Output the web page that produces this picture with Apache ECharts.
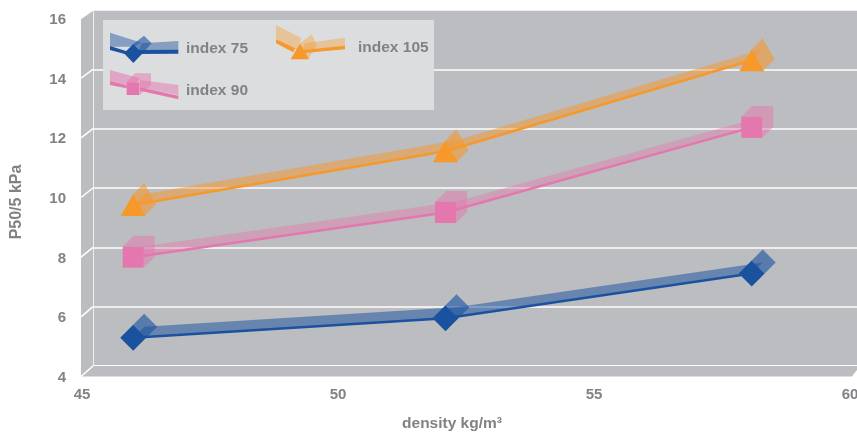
<!DOCTYPE html>
<html><head><meta charset="utf-8">
<style>html,body{margin:0;padding:0;background:#fff}#c{width:857px;height:432px}</style>
<script src="https://cdn.jsdelivr.net/npm/echarts@6/dist/echarts.min.js"></script></head>
<body><div id="c"></div>
<script>
const density = [46, 52.1, 58.08];
const index75 = [5.35, 6.0, 7.5];
const index90 = [8.05, 9.55, 12.4];
const index105 = [9.8, 11.6, 14.65];
const yTicks = [4, 6, 8, 10, 12, 14, 16];
const xRange = [45, 60];
const labelGray = '#808285', wall = '#bcbdc0', font = '"Liberation Sans", Arial, sans-serif';
const blue = '#1a52a0', pink = '#e477ae', orange = '#f7982b';
const D = 11;
const pairs = v => density.map((x, i) => [x, v[i]]);

function faces(shape, c) {
  const [x, y] = c;
  const off = p => [p[0] + D, p[1] - D];
  const quad = (a, b) => [a, b, off(b), off(a)];
  if (shape === 'diamond') return [quad([x, y - 13], [x + 13, y])];
  if (shape === 'triangle') return [quad([x, y - 11], [x + 12, y + 10])];
  return [quad([x - 10.5, y - 10.5], [x + 10.5, y - 10.5]), quad([x + 10.5, y - 10.5], [x + 10.5, y + 10.5])];
}
function depthSeries(name, values, color, faceAlpha, ribbonAlpha, shape) {
  return {
    type: 'custom', name: name + ' depth', xAxisIndex: 0, yAxisIndex: 0, z: 3, clip: false, silent: true,
    data: pairs(values),
    renderItem(params, api) {
      const p = api.coord([api.value(0), api.value(1)]);
      const children = [];
      faces(shape, p).forEach(f => children.push({ type: 'polygon', shape: { points: f }, style: { fill: color, opacity: faceAlpha } }));
      const i = params.dataIndex;
      if (i < density.length - 1) {
        const q = api.coord([density[i + 1], values[i + 1]]);
        children.push({ type: 'polygon', shape: { points: [p, q, [q[0] + D, q[1] - D], [p[0] + D, p[1] - D]] }, style: { fill: color, opacity: ribbonAlpha } });
      }
      return { type: 'group', children };
    }
  };
}
function frontSeries(name, values, color, symbol, size) {
  return {
    type: 'line', name, xAxisIndex: 0, yAxisIndex: 0, z: 4, data: pairs(values), symbol, symbolSize: size,
    showAllSymbol: true, lineStyle: { color, width: 2.5 }, itemStyle: { color, opacity: 1 }
  };
}
const wallSeries = {
  type: 'custom', name: 'walls', xAxisIndex: 0, yAxisIndex: 0, z: 1, clip: false, silent: true,
  data: yTicks.map(t => [xRange[0], t]),
  renderItem(params, api) {
    const val = api.value(1);
    const t = api.coord([xRange[0], val]);
    const a = [t[0] - 1, t[1] - 1.5];
    const backP = [a[0] + 12, a[1] - (10.5 - (val - 4) / 6)];
    const kids = [];
    if (val === 4) {
      const top = api.coord([xRange[0], 16]);
      const r = api.coord([xRange[1], 4]);
      const tl = [top[0] - 1, top[1] - 2];
      kids.push({ type: 'polygon', shape: { points: [a, tl, [tl[0] + 12, tl[1] - 8], backP] }, style: { fill: wall } });
      kids.push({ type: 'polygon', shape: { points: [a, [r[0] + 2, a[1]], [r[0] + 10, backP[1]], backP] }, style: { fill: wall } });
    }
    kids.push({ type: 'line', shape: { x1: a[0], y1: a[1], x2: backP[0], y2: backP[1] }, style: { stroke: '#fff', lineWidth: 1.5 } });
    return { type: 'group', children: kids };
  }
};
const poly = (pts3x, fill, opacity) => ({
  type: 'polygon', z: 20, silent: true,
  shape: { points: pts3x.map(p => [p[0] / 3, p[1] / 3]) },
  style: { fill, opacity: opacity === undefined ? 1 : opacity }
});
const legendText = (text, x, y) => ({
  type: 'text', z: 21, x, y, silent: true,
  style: { text, fill: labelGray, font: 'bold 15.5px ' + font, textVerticalAlign: 'middle' }
});
const legendGraphics = [
  { type: 'rect', z: 19, silent: true, shape: { x: 103, y: 20, width: 331, height: 90 }, style: { fill: '#dcddde' } },
  poly([[330,98],[425,128],[400,140],[330,140]], blue, .45),
  poly([[425,130],[535,123],[535,150],[415,155]], blue, .45),
  poly([[330,138],[385,155],[385,165],[330,150]], blue),
  poly([[415,150],[535,149],[535,161],[415,162]], blue),
  poly([[400,132],[432,107],[455,130],[428,160]], blue, .6),
  poly([[372,160],[400,132],[428,160],[400,189]], blue),
  poly([[828,75],[905,115],[890,150],[828,118]], orange, .38),
  poly([[915,130],[1035,113],[1035,138],[905,150]], orange, .38),
  poly([[828,118],[885,145],[880,157],[828,130]], orange),
  poly([[905,150],[1035,137],[1035,148],[905,160]], orange),
  poly([[900,130],[935,103],[950,135],[925,178]], orange, .38),
  poly([[900,130],[927,178],[872,178]], orange),
  poly([[330,210],[420,235],[400,258],[330,243]], pink, .55),
  poly([[420,240],[535,255],[535,285],[420,262]], pink, .5),
  poly([[330,243],[380,255],[380,265],[330,255]], pink),
  poly([[420,262],[535,287],[535,298],[420,272]], pink),
  poly([[380,247],[405,220],[453,220],[418,247]], pink, .5),
  poly([[418,247],[453,220],[453,255],[418,285]], pink, .5),
  poly([[380,247],[418,247],[418,285],[380,285]], pink),
  legendText('index 75', 186, 49),
  legendText('index 105', 358, 48),
  legendText('index 90', 186, 91)
];
const option = {
  animation: false,
  backgroundColor: '#fff',
  textStyle: { fontFamily: font },
  grid: [
    { left: 82, top: 20, width: 768, height: 358, show: false, outerBoundsMode: 'none' },
    { left: 93, top: 10, width: 768, height: 356, show: true, backgroundColor: wall, borderWidth: 0, outerBoundsMode: 'none' }
  ],
  xAxis: [
    { gridIndex: 0, type: 'value', min: xRange[0], max: xRange[1], interval: 5, splitLine: { show: false },
      axisTick: { show: false }, axisLine: { show: false },
      axisLabel: { color: labelGray, fontWeight: 'bold', fontSize: 15, margin: 9, hideOverlap: false },
      name: 'density kg/m³', nameLocation: 'middle', nameGap: 38,
      nameTextStyle: { color: labelGray, fontWeight: 'bold', fontSize: 15.5, padding: [0, 28, 0, 0] } },
    { gridIndex: 1, type: 'value', min: xRange[0], max: xRange[1], interval: 15, splitLine: { show: false },
      axisTick: { show: false }, axisLabel: { show: false }, axisLine: { show: true, lineStyle: { color: '#fff', width: 1.5 } } }
  ],
  yAxis: [
    { gridIndex: 0, type: 'value', min: 4, max: 16, interval: 2, splitLine: { show: false },
      axisTick: { show: false }, axisLine: { show: false },
      axisLabel: { color: labelGray, fontWeight: 'bold', fontSize: 15, margin: 16 },
      name: 'P50/5 kPa', nameLocation: 'middle', nameGap: 57, nameRotate: 90,
      nameTextStyle: { color: labelGray, fontWeight: 'bold', fontSize: 16, padding: [0, 6, 0, 0] } },
    { gridIndex: 1, type: 'value', min: 4, max: 16, interval: 2,
      splitLine: { show: true, lineStyle: { color: '#fff', width: 1.5 } },
      axisTick: { show: false }, axisLabel: { show: false }, axisLine: { show: true, lineStyle: { color: '#fff', width: 1.5 } } }
  ],
  graphic: legendGraphics,
  series: [
    { type: 'line', xAxisIndex: 1, yAxisIndex: 1, data: [], name: 'back wall' },
    wallSeries,
    depthSeries('index 75', index75, blue, .62, .52, 'diamond'),
    depthSeries('index 90', index90, pink, .5, .42, 'rect'),
    depthSeries('index 105', index105, orange, .58, .5, 'triangle'),
    frontSeries('index 75', index75, blue, 'diamond', 26),
    frontSeries('index 90', index90, pink, 'rect', 21),
    frontSeries('index 105', index105, orange, 'triangle', [25, 22])
  ]
};
echarts.init(document.getElementById('c'), null, { renderer: 'canvas' }).setOption(option);
</script></body></html>
